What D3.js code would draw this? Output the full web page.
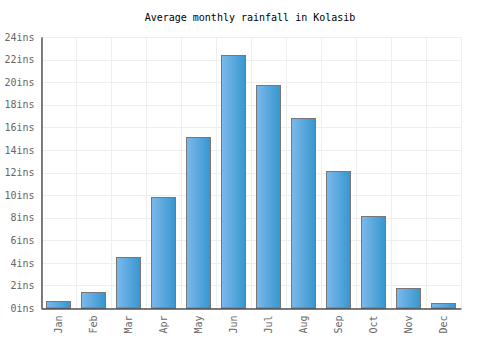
<!DOCTYPE html>
<html><head><meta charset="utf-8">
<script src="https://cdn.jsdelivr.net/npm/d3@7"></script>
<style>body{margin:0;background:#fff}</style>
</head><body>
<svg id="c" width="500" height="350"></svg>
<script>
const months = ["Jan","Feb","Mar","Apr","May","Jun","Jul","Aug","Sep","Oct","Nov","Dec"];
const rainfall = [0.62, 1.39, 4.5, 9.8, 15.1, 22.45, 19.75, 16.8, 12.1, 8.15, 1.75, 0.42];
const yTicks = [0,2,4,6,8,10,12,14,16,18,20,22,24];
const title = "Average monthly rainfall in Kolasib";

const svg = d3.select("#c");
const L = 41, R = 461, T = 37, B = 308;
const font = "'DejaVu Sans Mono', monospace";
const x = d3.scaleBand().domain(months).range([L, R]).paddingInner(0.31).paddingOuter(0.155);
const xg = d3.scaleBand().domain(months).range([L, R]);
const y = d3.scaleLinear().domain([0, 24]).range([B, T]);

const defs = svg.append("defs");
const g = defs.append("linearGradient").attr("id","bg").attr("x1","0").attr("x2","1").attr("y1","0").attr("y2","0");
g.append("stop").attr("offset","0%").attr("stop-color","#7cb9ec");
g.append("stop").attr("offset","100%").attr("stop-color","#3796cf");

// grid
svg.append("g").selectAll("line.h").data(yTicks).join("line")
  .attr("x1", L).attr("x2", R).attr("y1", d => Math.round(y(d))+0.5).attr("y2", d => Math.round(y(d))+0.5)
  .attr("stroke", "#eeeeee");
svg.append("g").selectAll("line.v").data(months.concat(["_end"])).join("line")
  .attr("x1", (d,i) => Math.round(L + i*xg.step())+0.5).attr("x2", (d,i) => Math.round(L + i*xg.step())+0.5)
  .attr("y1", T).attr("y2", B).attr("stroke", "#eeeeee");

// bars
svg.append("g").selectAll("rect").data(rainfall).join("rect")
  .attr("x", (d,i) => Math.round(x(months[i]))+0.5)
  .attr("width", Math.round(x.bandwidth()))
  .attr("y", d => Math.round(y(d))+0.5)
  .attr("height", d => B - Math.round(y(d)) - 0.5)
  .attr("fill", "url(#bg)").attr("stroke", "#777777").attr("stroke-width", 1);

// y axis
const ya = svg.append("g").attr("transform", `translate(${L+0.5},0)`)
  .call(d3.axisLeft(y).tickValues(yTicks).tickSize(0).tickPadding(7).tickFormat(d => d + "ins"));
ya.select(".domain").attr("stroke", "#000");
ya.selectAll("text").attr("font-family", font).attr("font-size", 10).attr("fill", "#666");

// x axis
const xa = svg.append("g").attr("transform", `translate(0,${B+0.5})`)
  .call(d3.axisBottom(xg).tickSize(0).tickPadding(0));
xa.select(".domain").attr("stroke", "#000");
xa.selectAll("text").attr("font-family", font).attr("font-size", 10).attr("fill", "#666")
  .attr("text-anchor", "end").attr("dy", "0.35em")
  .attr("transform", "translate(0,7) rotate(-90)");

svg.append("text").attr("x", 250).attr("y", 21).attr("text-anchor", "middle")
  .attr("font-family", font).attr("font-size", 10).attr("fill", "#000").text(title);
</script>
</body></html>
